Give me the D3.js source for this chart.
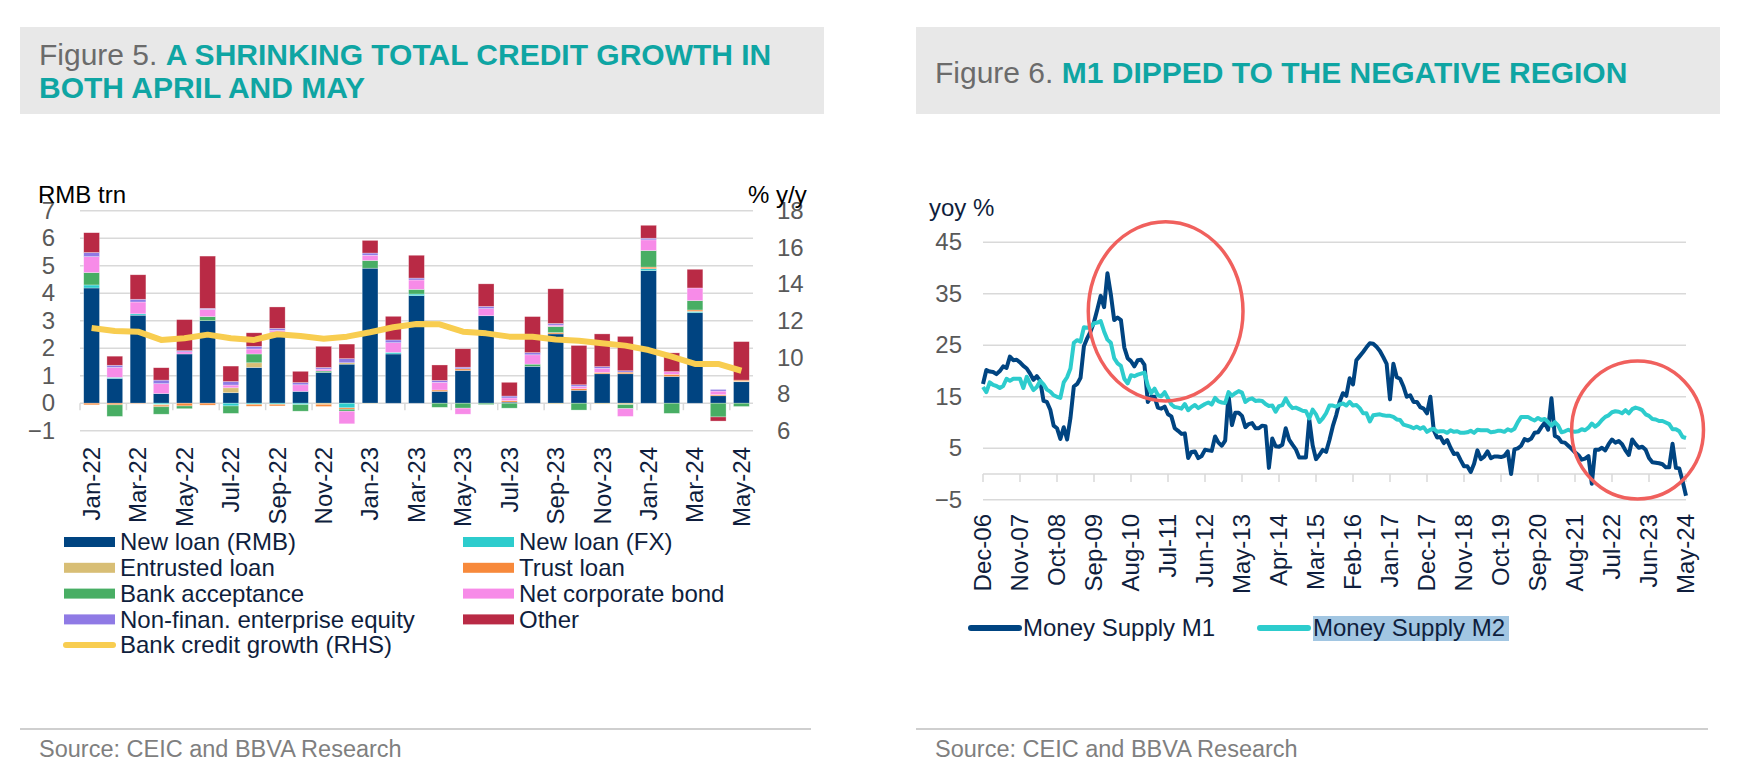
<!DOCTYPE html>
<html lang="en">
<head>
<meta charset="UTF-8">
<title>Total credit and money supply</title>
<style>
  body { margin: 0; background: #fff; }
  svg { font-family: "Liberation Sans", Arial, sans-serif; }
  .grid line { stroke: #d9d9d9; stroke-width: 1.5; }
  .tick-y text { fill: #595959; font-size: 24px; }
  .tick-x text { fill: #0f1e3d; font-size: 24px; }
  .legend text { fill: #0f1e3d; font-size: 24px; }
  .source { fill: #7f7f7f; font-size: 23.5px; }
</style>
</head>
<body>
<svg id="page" width="1756" height="771"></svg>
<script src="https://cdn.jsdelivr.net/npm/d3@7/dist/d3.min.js"></script>
<script>

// ---- Figure 5 data (RMB trn, monthly flows) ----
var months = ["Jan-22","Feb-22","Mar-22","Apr-22","May-22","Jun-22","Jul-22","Aug-22","Sep-22","Oct-22","Nov-22","Dec-22",
              "Jan-23","Feb-23","Mar-23","Apr-23","May-23","Jun-23","Jul-23","Aug-23","Sep-23","Oct-23","Nov-23","Dec-23",
              "Jan-24","Feb-24","Mar-24","Apr-24","May-24"];
var newLoanRmb  = [4.19,0.90,3.20,0.35,1.79,3.00,0.38,1.30,2.55,0.43,1.12,1.42, 4.91,1.79,3.91,0.43,1.19,3.18,0.04,1.34,2.52,0.47,1.07,1.07, 4.82,0.97,3.29,0.27,0.78];
var newLoanFx   = [0.11,0.04,0.05,-0.05,0,0,-0.10,-0.04,-0.04,-0.05,0,-0.17, 0,0.06,0.06,0,0,0,0,0,0,0,0,0, 0.07,0,0.05,0,0];
var entrusted   = [0,0,-0.01,-0.02,0,0,0.18,0.17,0.04,0,-0.04,0.05, -0.02,0,0,0,0,0,0,0,-0.03,0,-0.03,-0.05, 0,0,0,0,0.02];
var trustLoan   = [-0.06,-0.06,-0.02,-0.06,-0.10,-0.07,0,-0.07,-0.06,0,-0.08,-0.05, 0,0,0,0.05,0.06,0,0.05,0,0.05,0.06,0.05,0.06, 0.06,0.08,0.05,0.04,0.04];
var acceptance  = [0.45,-0.42,0,-0.27,-0.10,0.15,-0.27,0.32,0,-0.24,0.05,-0.07, 0.28,0,0.17,-0.15,-0.18,-0.05,-0.18,0.08,0.22,-0.25,0,-0.15, 0.60,-0.37,0.34,-0.50,-0.12];
var corpBond    = [0.58,0.36,0.43,0.36,0.08,0.26,0.10,0.18,0.06,0.24,0.07,-0.46, 0.19,0.35,0.34,0.28,-0.22,0.26,0.10,0.34,0.05,0.08,0.15,-0.28, 0.39,0.10,0.46,0.13,0];
var equity      = [0.15,0.08,0.10,0.13,0.04,0.04,0.13,0.10,0.07,0.08,0.06,0.15, 0.08,0.10,0.07,0.07,0.06,0.08,0.07,0.08,0.06,0.06,0.06,0.05, 0.06,0,0,0.06,0];
var other       = [0.72,0.33,0.89,0.45,1.13,1.90,0.56,0.49,0.78,0.41,0.77,0.53, 0.46,0.86,0.83,0.56,0.67,0.82,0.50,1.31,1.26,1.43,1.19,1.25, 0.47,0.68,0.68,-0.15,1.40];
var creditGrowth = [11.6,11.44,11.4,10.95,11.04,11.24,11.04,10.95,11.26,11.17,11.02,11.13,
                    11.37,11.64,11.82,11.8,11.4,11.31,11.13,11.13,10.98,10.91,10.77,10.64,
                    10.4,10.04,9.64,9.64,9.27];

var seriesKeys   = ["rmb","fx","entrusted","trust","acceptance","bond","equity","other"];
var seriesNames  = ["New loan (RMB)","New loan (FX)","Entrusted loan","Trust loan","Bank acceptance","Net corporate bond","Non-finan. enterprise equity","Other"];
var seriesColors = ["#004481","#2dcccd","#d8be75","#f7893b","#48ae64","#f78be8","#8f7ae5","#b92a45"];

// ---- Figure 6 data (yoy %, Dec-06 .. May-24) ----
var m1 = [17.5,
  20.2,19.9,19.8,19.4,20.0,20.9,20.6,22.8,22.1,22.2,21.7,21.0,
  20.5,19.5,18.3,19.0,18.1,14.2,14.0,12.5,9.4,8.9,6.8,9.1,
  6.7,10.9,17.0,17.5,18.7,24.8,26.4,27.7,29.5,32.0,34.6,32.4,
  39.0,34.9,29.9,30.4,29.9,24.6,22.5,21.9,20.9,22.1,22.2,21.2,
  14.0,15.0,15.0,12.9,12.7,13.1,11.6,11.2,8.9,8.4,7.8,7.9,
  3.1,4.3,4.4,3.1,3.5,4.7,4.6,4.5,7.3,6.1,5.5,6.5,
  15.3,9.5,11.9,11.9,11.3,9.1,9.7,9.9,8.9,8.9,9.4,9.3,
  1.2,6.9,5.4,5.3,5.7,8.9,6.7,5.7,4.8,3.2,3.2,3.2,
  10.6,5.6,2.9,3.7,4.7,4.3,6.6,9.3,11.4,14.0,15.7,15.2,
  18.6,17.4,22.1,22.9,23.7,24.6,25.4,25.3,24.7,23.9,22.7,21.4,
  14.5,21.4,18.8,18.5,17.0,15.0,15.3,14.0,14.0,13.0,12.7,11.8,
  15.0,8.5,7.1,7.2,6.0,6.6,5.1,3.9,4.0,2.7,1.5,1.5,
  0.4,2.0,4.6,2.9,3.4,4.4,3.1,3.4,3.4,3.3,3.5,4.4,
  0.0,4.8,5.0,5.5,6.8,6.5,6.9,8.0,8.1,9.1,10.0,8.6,
  14.7,7.4,7.1,6.2,6.1,5.5,4.9,4.2,3.7,2.8,3.0,3.5,
  -1.9,4.7,4.7,5.1,4.6,5.8,6.7,6.1,6.4,5.8,4.6,3.7,
  6.7,5.8,5.1,5.3,4.7,3.1,2.3,2.2,2.1,1.9,1.3,1.3,
  5.9,1.2,1.1,-1.4,-4.2];
var m2 = [16.9,
  15.9,17.8,17.3,17.1,16.7,17.1,18.5,18.1,18.5,18.5,18.5,16.7,
  18.9,17.5,16.3,16.9,18.1,17.4,16.4,16.0,15.3,15.0,14.8,17.8,
  18.8,20.5,25.5,26.0,25.7,28.5,28.4,28.5,29.3,29.4,29.7,27.7,
  26.1,25.5,22.5,21.5,21.0,18.5,17.6,19.2,19.0,19.3,19.5,19.7,
  17.2,15.7,16.6,15.3,15.1,15.9,14.7,13.5,13.0,12.9,12.7,13.6,
  12.4,13.0,13.4,12.8,13.2,13.6,13.9,13.5,14.8,14.1,13.9,13.8,
  15.9,15.2,15.7,16.1,15.8,14.0,14.5,14.7,14.2,14.3,14.2,13.6,
  13.2,13.3,12.1,13.2,13.4,14.7,13.5,12.8,12.9,12.6,12.3,12.2,
  10.8,12.5,11.6,10.1,10.8,11.8,13.3,13.3,13.1,13.5,13.7,13.3,
  14.0,13.3,13.4,12.8,11.8,11.8,10.2,11.4,11.5,11.6,11.4,11.3,
  11.3,11.1,10.6,10.5,9.6,9.4,9.2,8.9,9.2,8.8,9.1,8.2,
  8.6,8.8,8.2,8.3,8.3,8.0,8.5,8.2,8.3,8.0,8.0,8.1,
  8.4,8.0,8.6,8.5,8.5,8.5,8.1,8.2,8.4,8.4,8.2,8.7,
  8.4,8.8,10.1,11.1,11.1,11.1,10.7,10.4,10.9,10.5,10.7,10.1,
  9.4,10.1,9.4,8.1,8.3,8.6,8.3,8.2,8.3,8.7,8.5,9.0,
  9.8,9.2,9.7,10.5,11.1,11.4,12.0,12.2,12.1,11.8,12.4,11.8,
  12.6,12.9,12.7,12.4,11.6,11.3,10.7,10.6,10.3,10.3,10.0,9.7,
  8.7,8.7,8.3,7.2,7.0];
var moneyTickLabels = ["Dec-06","Nov-07","Oct-08","Sep-09","Aug-10","Jul-11","Jun-12","May-13","Apr-14","Mar-15",
                       "Feb-16","Jan-17","Dec-17","Nov-18","Oct-19","Sep-20","Aug-21","Jul-22","Jun-23","May-24"];
var moneyTickStep = 11;   // months between labels
var moneyYTicks = [-5,5,15,25,35,45];
// highlighted areas: [month index, value, half width in months, half height in %]
var highlights = [[54.3,31.6,23,17.4],[194.6,8.55,19.6,13.4]];

var svg = d3.select("#page");

// ---------- headers and footers ----------
function header(x, w, lines) {
    svg.append("rect").attr("x", x).attr("y", 27).attr("width", w).attr("height", 87).attr("fill", "#e8e8e8");
    lines.forEach(function(l) {
        var t = svg.append("text").attr("x", x + 19).attr("y", l.y).style("font-size", "30px");
        if (l.lead) t.append("tspan").attr("fill", "#6b6b6b").text(l.lead);
        t.append("tspan").attr("fill", "#0fa5a3").attr("font-weight", "bold").text(l.bold);
    });
}
header(20, 804, [{y: 65, lead: "Figure 5. ", bold: "A SHRINKING TOTAL CREDIT GROWTH IN"}, {y: 98, bold: "BOTH APRIL AND MAY"}]);
header(916, 804, [{y: 83, lead: "Figure 6. ", bold: "M1 DIPPED TO THE NEGATIVE REGION"}]);

function footer(x, w) {
    svg.append("line").attr("x1", x).attr("x2", x + w).attr("y1", 729).attr("y2", 729)
        .attr("stroke", "#cfcfcf").attr("stroke-width", 2);
    svg.append("text").attr("class", "source").attr("x", x + 19).attr("y", 757).text("Source: CEIC and BBVA Research");
}
footer(20, 791);
footer(916, 792);

// ---------- Figure 5: stacked bars + line ----------
var table = months.map(function(m, i) {
    return {month: m, rmb: newLoanRmb[i], fx: newLoanFx[i], entrusted: entrusted[i], trust: trustLoan[i],
            acceptance: acceptance[i], bond: corpBond[i], equity: equity[i], other: other[i]};
});

var x = d3.scaleBand().domain(months).range([80, 753]).paddingInner(0.32).paddingOuter(0.16);
var yL = d3.scaleLinear().domain([-1, 7]).range([430.7, 210.7]);
var yR = d3.scaleLinear().domain([6, 18]).range([430.7, 210.7]);

var c1 = svg.append("g");

c1.append("g").attr("class", "grid").selectAll("line")
    .data(d3.range(-1, 8))
    .enter().append("line")
    .attr("x1", 80).attr("x2", 753)
    .attr("y1", function(d) { return yL(d); })
    .attr("y2", function(d) { return yL(d); });

c1.append("g").attr("class", "tick-y").attr("transform", "translate(80,0)")
    .call(d3.axisLeft(yL).tickValues(d3.range(-1, 8)).tickSize(0).tickPadding(25).tickFormat(d3.format("d")))
    .call(function(g) { g.select(".domain").remove(); g.selectAll("text").style("font-family", null); });

c1.append("g").attr("class", "tick-y").attr("transform", "translate(753,0)")
    .call(d3.axisRight(yR).tickValues(d3.range(6, 19, 2)).tickSize(0).tickPadding(24))
    .call(function(g) { g.select(".domain").remove(); });

// tick marks between every second month
var edge = (x.step() - x.bandwidth()) / 2;
c1.append("g").selectAll("line")
    .data(months.filter(function(d, i) { return i % 2 === 0; }))
    .enter().append("line")
    .attr("x1", function(d) { return x(d) - edge; })
    .attr("x2", function(d) { return x(d) - edge; })
    .attr("y1", yL(0)).attr("y2", yL(0) + 7)
    .attr("stroke", "#d9d9d9").attr("stroke-width", 1.5);

var stacked = d3.stack().keys(seriesKeys).offset(d3.stackOffsetDiverging)(table);

c1.append("g").selectAll("g")
    .data(stacked)
    .enter().append("g")
    .attr("fill", function(d, i) { return seriesColors[i]; })
    .selectAll("rect")
    .data(function(d) { return d; })
    .enter().append("rect")
    .attr("x", function(d) { return x(d.data.month); })
    .attr("width", x.bandwidth())
    .attr("y", function(d) { return yL(Math.max(d[0], d[1])); })
    .attr("height", function(d) { return Math.abs(yL(d[0]) - yL(d[1])); })
    .attr("stroke", "#fff").attr("stroke-width", 0.6).attr("stroke-opacity", 0.5);

var growthLine = d3.line()
    .x(function(d, i) { return x(months[i]) + x.bandwidth() / 2; })
    .y(function(d) { return yR(d); });

c1.append("path").datum(creditGrowth)
    .attr("d", growthLine)
    .attr("fill", "none").attr("stroke", "#f8cd50").attr("stroke-width", 6)
    .attr("stroke-linejoin", "round");

c1.append("g").attr("class", "tick-x").selectAll("text")
    .data(months.filter(function(d, i) { return i % 2 === 0; }))
    .enter().append("text")
    .attr("transform", function(d) { return "translate(" + (x(d) + x.bandwidth() / 2) + ",447) rotate(-90)"; })
    .attr("text-anchor", "end").attr("dy", "0.35em")
    .text(function(d) { return d; });

c1.append("text").attr("x", 38).attr("y", 203).style("font-size", "24px").text("RMB trn");
c1.append("text").attr("x", 748).attr("y", 203).style("font-size", "24px").text("% y/y");

// legend
var leg1 = c1.append("g").attr("class", "legend");
var legOrder = [0, 1, 2, 3, 4, 5, 6, 7];
legOrder.forEach(function(k, i) {
    var col = i % 2, row = Math.floor(i / 2);
    var lx = col === 0 ? 64 : 463, ly = 542 + row * 25.8;
    leg1.append("rect").attr("x", lx).attr("y", ly - 5).attr("width", 51).attr("height", 10).attr("fill", seriesColors[k]);
    leg1.append("text").attr("x", lx + 56).attr("y", ly).attr("dy", "0.35em").text(seriesNames[k]);
});
leg1.append("line").attr("x1", 66).attr("x2", 113).attr("y1", 645).attr("y2", 645)
    .attr("stroke", "#f8cd50").attr("stroke-width", 6).attr("stroke-linecap", "round");
leg1.append("text").attr("x", 120).attr("y", 645).attr("dy", "0.35em").text("Bank credit growth (RHS)");

// ---------- Figure 6: M1 / M2 lines ----------
var xm = d3.scaleLinear().domain([0, m1.length - 1]).range([983, 1686]);
var ym = d3.scaleLinear().domain([-5, 45]).range([499.8, 242.3]);

var c2 = svg.append("g");

c2.append("g").attr("class", "grid").selectAll("line")
    .data(moneyYTicks)
    .enter().append("line")
    .attr("x1", 983).attr("x2", 1686)
    .attr("y1", function(d) { return ym(d); })
    .attr("y2", function(d) { return ym(d); });

c2.append("g").attr("class", "tick-y").attr("transform", "translate(983,0)")
    .call(d3.axisLeft(ym).tickValues(moneyYTicks).tickSize(0).tickPadding(21))
    .call(function(g) { g.select(".domain").remove(); });

// x axis sits on zero
c2.append("line").attr("x1", 983).attr("x2", 1686).attr("y1", ym(0)).attr("y2", ym(0))
    .attr("stroke", "#d9d9d9").attr("stroke-width", 1.5);
c2.append("g").selectAll("line")
    .data(moneyTickLabels)
    .enter().append("line")
    .attr("x1", function(d, i) { return xm(i * moneyTickStep); })
    .attr("x2", function(d, i) { return xm(i * moneyTickStep); })
    .attr("y1", ym(0)).attr("y2", ym(0) + 8)
    .attr("stroke", "#d9d9d9").attr("stroke-width", 1.5);

c2.append("g").attr("class", "tick-x").selectAll("text")
    .data(moneyTickLabels)
    .enter().append("text")
    .attr("transform", function(d, i) { return "translate(" + xm(i * moneyTickStep) + ",514) rotate(-90)"; })
    .attr("text-anchor", "end").attr("dy", "0.35em")
    .text(function(d) { return d; });

var moneyLine = d3.line()
    .x(function(d, i) { return xm(i); })
    .y(function(d) { return ym(d); });

c2.append("path").datum(m1).attr("d", moneyLine)
    .attr("fill", "none").attr("stroke", "#004481").attr("stroke-width", 4).attr("stroke-linejoin", "round");
c2.append("path").datum(m2).attr("d", moneyLine)
    .attr("fill", "none").attr("stroke", "#2dcccd").attr("stroke-width", 4).attr("stroke-linejoin", "round");

c2.append("g").selectAll("ellipse")
    .data(highlights)
    .enter().append("ellipse")
    .attr("cx", function(d) { return xm(d[0]); })
    .attr("cy", function(d) { return ym(d[1]); })
    .attr("rx", function(d) { return xm(d[0] + d[2]) - xm(d[0]); })
    .attr("ry", function(d) { return ym(d[1] - d[3]) - ym(d[1]); })
    .attr("fill", "none").attr("stroke", "#f0605d").attr("stroke-width", 3.5);

c2.append("text").attr("x", 929).attr("y", 216).attr("fill", "#0f1e3d").style("font-size", "24px").text("yoy %");

var leg2 = c2.append("g").attr("class", "legend");
leg2.append("line").attr("x1", 971).attr("x2", 1019).attr("y1", 628).attr("y2", 628)
    .attr("stroke", "#004481").attr("stroke-width", 6).attr("stroke-linecap", "round");
leg2.append("text").attr("x", 1023).attr("y", 628).attr("dy", "0.35em").text("Money Supply M1");
leg2.append("line").attr("x1", 1260).attr("x2", 1308).attr("y1", 628).attr("y2", 628)
    .attr("stroke", "#2dcccd").attr("stroke-width", 6).attr("stroke-linecap", "round");
leg2.append("rect").attr("x", 1313).attr("y", 616).attr("width", 196).attr("height", 25).attr("fill", "#a2c6e2");
leg2.append("text").attr("x", 1313).attr("y", 628).attr("dy", "0.35em").text("Money Supply M2");

</script>
</body>
</html>
